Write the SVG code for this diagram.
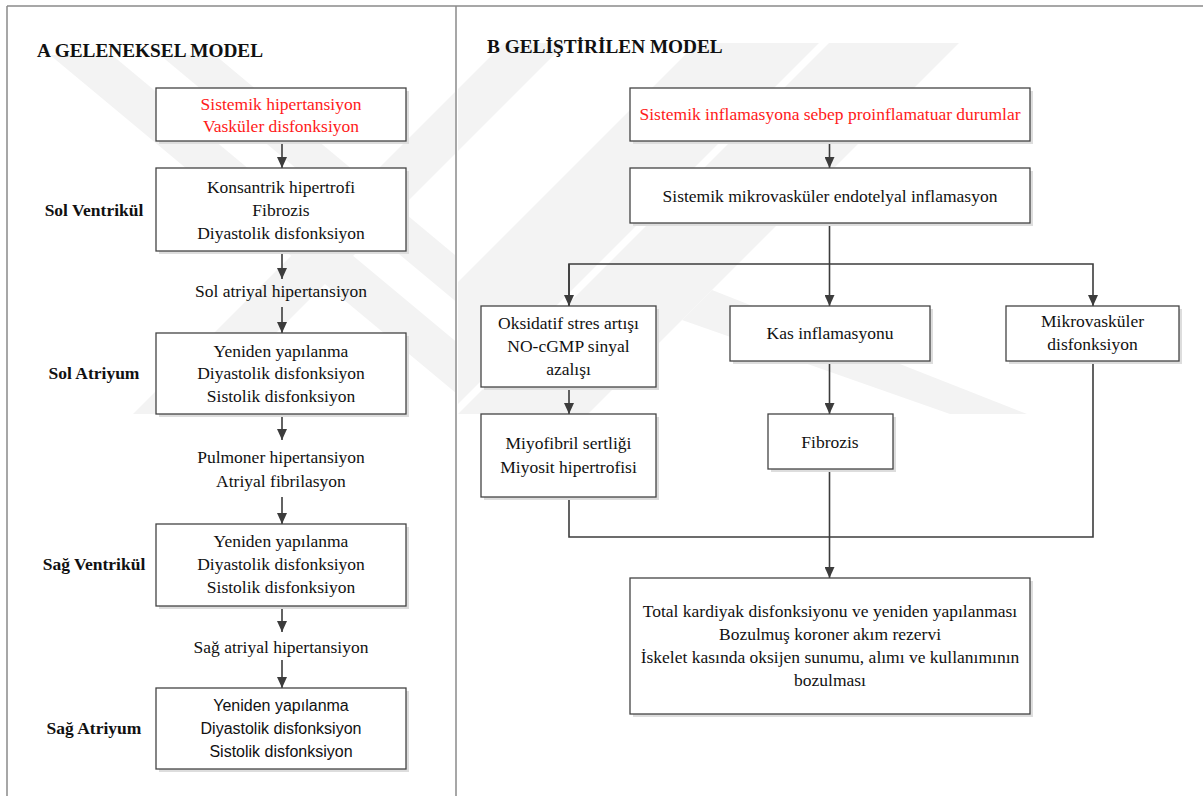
<svg xmlns="http://www.w3.org/2000/svg" width="1203" height="796" viewBox="0 0 1203 796">
<defs>
<style>
.frame{stroke:#8a8a8a;stroke-width:1.5;fill:none}
.wm{fill:#f3f3f3}
.sh{fill:#dddddd}
.box{fill:#ffffff;stroke:#444444;stroke-width:1.3}
.t{font-family:"Liberation Serif","Times New Roman",serif;font-size:17.5px;fill:#111111;text-anchor:middle}
.red{fill:#ff1a1a}
.lbl{font-weight:bold}
.title{font-family:"Liberation Serif","Times New Roman",serif;font-size:19.3px;font-weight:bold;fill:#111111}
.sans{font-family:"Liberation Sans",Arial,sans-serif;font-size:16px;fill:#111111;text-anchor:middle}
.conn{stroke:#3c3c3c;stroke-width:1.6;fill:none}
</style>
<marker id="ah" markerUnits="userSpaceOnUse" markerWidth="11" markerHeight="10" refX="11" refY="5" orient="auto">
<path d="M0,0 L11,5 L0,10 z" fill="#3c3c3c"/>
</marker>
<clipPath id="cl"><rect x="8" y="55" width="447" height="359"/></clipPath>
<clipPath id="cr"><rect x="458" y="43" width="745" height="371"/></clipPath>
</defs>
<rect width="1203" height="796" fill="#ffffff"/>
<g id="watermark">
<g clip-path="url(#cl)">
<polygon class="wm" points="50,55 112,55 543,414 481,414"/>
<polygon class="wm" points="160,55 215,55 646,414 591,414"/>
<polygon class="wm" points="133,414 195,414 566,43 504,43"/>
</g>
<g clip-path="url(#cr)">
<polygon class="wm" points="133,414 195,414 566,43 504,43"/>
<polygon class="wm" points="326,414 448,414 819,43 697,43"/>
<polygon class="wm" points="458,414 588,414 959,43 829,43"/>
<polygon class="wm" points="712,290 1027,414 950,414 682,320"/>
</g>
</g>
<g id="frame">
<line class="frame" x1="7" y1="6" x2="1203" y2="6"/>
<line class="frame" x1="7" y1="6" x2="7" y2="796"/>
<line class="frame" x1="456" y1="6" x2="456" y2="796"/>
</g>
<text class="title" x="37" y="57">A GELENEKSEL MODEL</text>
<text class="title" x="487" y="53">B GELİŞTİRİLEN MODEL</text>
<g id="connectors">
<line class="conn" x1="282" y1="141" x2="282" y2="168" marker-end="url(#ah)"/>
<line class="conn" x1="282" y1="251" x2="282" y2="279" marker-end="url(#ah)"/>
<line class="conn" x1="282" y1="307" x2="282" y2="333" marker-end="url(#ah)"/>
<line class="conn" x1="282" y1="414" x2="282" y2="440" marker-end="url(#ah)"/>
<line class="conn" x1="282" y1="497" x2="282" y2="524" marker-end="url(#ah)"/>
<line class="conn" x1="282" y1="606" x2="282" y2="632" marker-end="url(#ah)"/>
<line class="conn" x1="282" y1="660" x2="282" y2="688" marker-end="url(#ah)"/>
<line class="conn" x1="829.5" y1="141" x2="829.5" y2="168" marker-end="url(#ah)"/>
<line class="conn" x1="829.5" y1="223" x2="829.5" y2="306" marker-end="url(#ah)"/>
<path class="conn" d="M569,306 V264 H1093 V306" marker-end="url(#ah)"/>
<line class="conn" x1="569" y1="264" x2="569" y2="306" marker-end="url(#ah)"/>
<line class="conn" x1="569" y1="387" x2="569" y2="414" marker-end="url(#ah)"/>
<line class="conn" x1="829.5" y1="361" x2="829.5" y2="414" marker-end="url(#ah)"/>
<path class="conn" d="M569,497 V537 H1093 V361"/>
<line class="conn" x1="829.5" y1="469" x2="829.5" y2="578" marker-end="url(#ah)"/>
</g>
<g id="a1">
<rect class="sh" x="159" y="91" width="250" height="53"/>
<rect class="box" x="156" y="88" width="250" height="53"/>
<text class="t red" x="281" y="110">Sistemik hipertansiyon</text>
<text class="t red" x="281" y="132">Vasküler disfonksiyon</text>
</g>
<g id="a2">
<text class="t lbl" x="94" y="216">Sol Ventrikül</text>
<rect class="sh" x="159" y="171" width="250" height="83"/>
<rect class="box" x="156" y="168" width="250" height="83"/>
<text class="t" x="281" y="193">Konsantrik hipertrofi</text>
<text class="t" x="281" y="216">Fibrozis</text>
<text class="t" x="281" y="239">Diyastolik disfonksiyon</text>
</g>
<g id="a-l1"><text class="t" x="281" y="297">Sol atriyal hipertansiyon</text></g>
<g id="a3">
<text class="t lbl" x="94" y="379">Sol Atriyum</text>
<rect class="sh" x="159" y="336" width="250" height="81"/>
<rect class="box" x="156" y="333" width="250" height="81"/>
<text class="t" x="281" y="357">Yeniden yapılanma</text>
<text class="t" x="281" y="379">Diyastolik disfonksiyon</text>
<text class="t" x="281" y="402">Sistolik disfonksiyon</text>
</g>
<g id="a-l2">
<text class="t" x="281" y="463">Pulmoner hipertansiyon</text>
<text class="t" x="281" y="487">Atriyal fibrilasyon</text>
</g>
<g id="a4">
<text class="t lbl" x="94" y="570">Sağ Ventrikül</text>
<rect class="sh" x="159" y="527" width="250" height="82"/>
<rect class="box" x="156" y="524" width="250" height="82"/>
<text class="t" x="281" y="547">Yeniden yapılanma</text>
<text class="t" x="281" y="570">Diyastolik disfonksiyon</text>
<text class="t" x="281" y="593">Sistolik disfonksiyon</text>
</g>
<g id="a-l3"><text class="t" x="281" y="653">Sağ atriyal hipertansiyon</text></g>
<g id="a5">
<text class="t lbl" x="94" y="734">Sağ Atriyum</text>
<rect class="sh" x="159" y="691" width="250" height="81"/>
<rect class="box" x="156" y="688" width="250" height="81"/>
<text class="sans" x="281" y="711">Yeniden yapılanma</text>
<text class="sans" x="281" y="734">Diyastolik disfonksiyon</text>
<text class="sans" x="281" y="757">Sistolik disfonksiyon</text>
</g>
<g id="b1">
<rect class="sh" x="633" y="91" width="400" height="53"/>
<rect class="box" x="630" y="88" width="400" height="53"/>
<text class="t red" x="830" y="120">Sistemik inflamasyona sebep proinflamatuar durumlar</text>
</g>
<g id="b2">
<rect class="sh" x="633" y="171" width="400" height="55"/>
<rect class="box" x="630" y="168" width="400" height="55"/>
<text class="t" x="830" y="202">Sistemik mikrovasküler endotelyal inflamasyon</text>
</g>
<g id="b3">
<rect class="sh" x="484" y="309" width="175" height="81"/>
<rect class="box" x="481" y="306" width="175" height="81"/>
<text class="t" x="568.5" y="329">Oksidatif stres artışı</text>
<text class="t" x="568.5" y="352">NO-cGMP sinyal</text>
<text class="t" x="568.5" y="375">azalışı</text>
</g>
<g id="b4">
<rect class="sh" x="733" y="309" width="200" height="55"/>
<rect class="box" x="730" y="306" width="200" height="55"/>
<text class="t" x="830" y="339">Kas inflamasyonu</text>
</g>
<g id="b5">
<rect class="sh" x="1009" y="309" width="173" height="55"/>
<rect class="box" x="1006" y="306" width="173" height="55"/>
<text class="t" x="1092.5" y="327">Mikrovasküler</text>
<text class="t" x="1092.5" y="350">disfonksiyon</text>
</g>
<g id="b6">
<rect class="sh" x="484" y="417" width="175" height="83"/>
<rect class="box" x="481" y="414" width="175" height="83"/>
<text class="t" x="568.5" y="449">Miyofibril sertliği</text>
<text class="t" x="568.5" y="473">Miyosit hipertrofisi</text>
</g>
<g id="b7">
<rect class="sh" x="771" y="417" width="125" height="55"/>
<rect class="box" x="768" y="414" width="125" height="55"/>
<text class="t" x="830" y="448">Fibrozis</text>
</g>
<g id="b8">
<rect class="sh" x="633" y="581" width="400" height="136"/>
<rect class="box" x="630" y="578" width="400" height="136"/>
<text class="t" x="830" y="617">Total kardiyak disfonksiyonu ve yeniden yapılanması</text>
<text class="t" x="830" y="640">Bozulmuş koroner akım rezervi</text>
<text class="t" x="830" y="663">İskelet kasında oksijen sunumu, alımı ve kullanımının</text>
<text class="t" x="830" y="686">bozulması</text>
</g>
</svg>
